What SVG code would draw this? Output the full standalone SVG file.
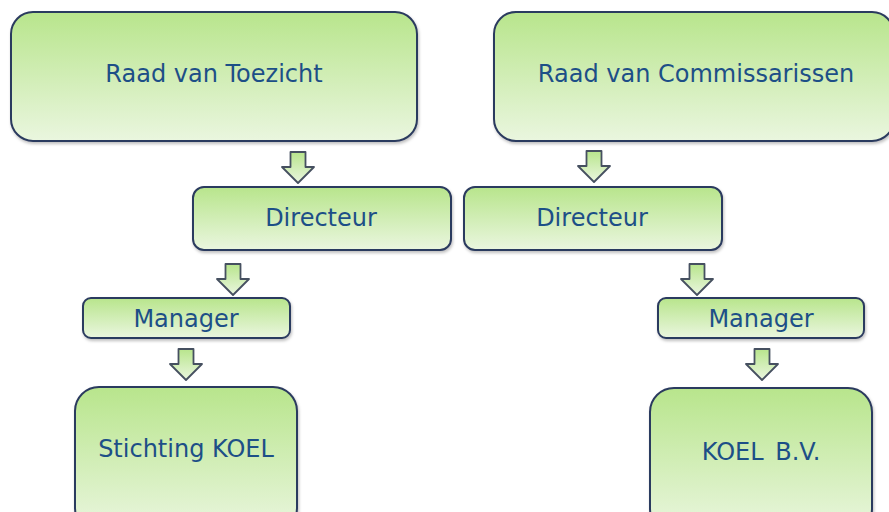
<svg xmlns="http://www.w3.org/2000/svg" width="889" height="512" viewBox="0 0 889 512">
<defs>
<linearGradient id="g" x1="0" y1="0" x2="0" y2="1">
<stop offset="0" stop-color="#b8e58c"/>
<stop offset="1" stop-color="#eaf6df"/>
</linearGradient>
<filter id="sh" x="-5%" y="-5%" width="110%" height="120%">
<feDropShadow dx="1" dy="2" stdDeviation="1.5" flood-color="#000" flood-opacity="0.25"/>
</filter>
<path id="arr" d="M-7.5,0 H7.5 V15 H16 L0,31 L-16,15 H-7.5 Z"/>
</defs>
<style>
.box{fill:url(#g);stroke:#2c3a5e;stroke-width:2;filter:url(#sh)}
.t{font-family:"DejaVu Sans","Open Sans",sans-serif;font-size:24px;fill:#1d4f87;text-anchor:middle;dominant-baseline:central}
.a{fill:url(#g);stroke:#465060;stroke-width:1.8;stroke-linejoin:round}
</style>
<rect width="889" height="512" fill="#fff"/>
<g id="connectors">
<use href="#arr" class="a" x="298" y="152"/>
<use href="#arr" class="a" x="233" y="264"/>
<use href="#arr" class="a" x="186" y="349"/>
<use href="#arr" class="a" x="594" y="151"/>
<use href="#arr" class="a" x="697" y="264"/>
<use href="#arr" class="a" x="762" y="349"/>
</g>
<g id="rvt"><rect class="box" x="11" y="12" width="406" height="129" rx="22"/><text class="t" x="214" y="74">Raad van Toezicht</text></g>
<g id="rvc"><rect class="box" x="494" y="12" width="400" height="129" rx="22"/><text class="t" x="696" y="74">Raad van Commissarissen</text></g>
<g id="dir1"><rect class="box" x="193" y="187" width="258" height="63" rx="11"/><text class="t" x="321" y="218">Directeur</text></g>
<g id="dir2"><rect class="box" x="464" y="187" width="258" height="63" rx="11"/><text class="t" x="592" y="218">Directeur</text></g>
<g id="man1"><rect class="box" x="83" y="298" width="207" height="40" rx="8"/><text class="t" x="186" y="319">Manager</text></g>
<g id="man2"><rect class="box" x="658" y="298" width="206" height="40" rx="8"/><text class="t" x="761" y="319">Manager</text></g>
<g id="sk"><rect class="box" x="75" y="387" width="222" height="145" rx="24"/><text class="t" x="186" y="449">Stichting KOEL</text></g>
<g id="kbv"><rect class="box" x="650" y="388" width="222" height="145" rx="24"/><text class="t" x="761" y="452" word-spacing="4">KOEL B.V.</text></g>
</svg>
